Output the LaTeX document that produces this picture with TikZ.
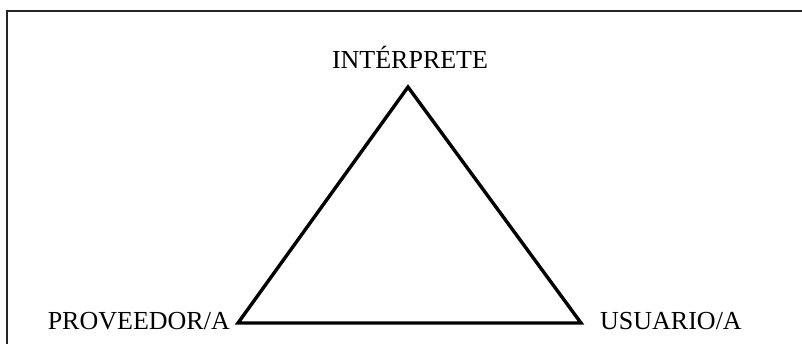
\documentclass[tikz,border=0pt]{standalone}
\usepackage{fontspec}
\setmainfont{Liberation Serif}
\begin{document}
\begin{tikzpicture}[
  x=1pt,
  y=-1pt,
  font=\fontsize{26}{30}\selectfont,
  corner/.style={inner sep=0pt, anchor=base}
]
\useasboundingbox (0,0) rectangle (802,343);
\clip (0,0) rectangle (802,343);

% frame
\draw[line width=2.2pt, black!85] (7,350) -- (7,11) -- (810,11);

% vertices
\coordinate (top) at (408,87);
\coordinate (left) at (238,323);
\coordinate (right) at (581,323);

\draw[line width=3.4pt, line join=miter] (top) -- (left) -- (right) -- cycle;

% labels
\node[corner] (interp) at (410,68) {INTÉRPRETE};
\node[corner, anchor=base east] (prov) at (230,329) {PROVEEDOR/A};
\node[corner, anchor=base west] (usu) at (600,329) {USUARIO/A};
\end{tikzpicture}
\end{document}
